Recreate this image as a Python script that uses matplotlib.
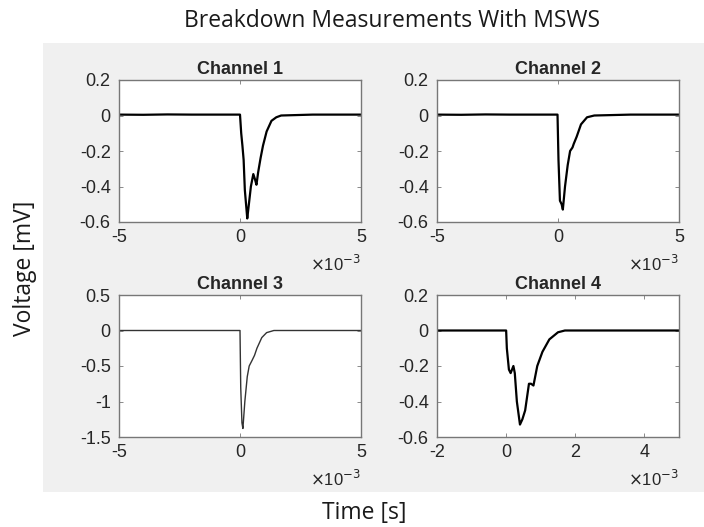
import matplotlib.pyplot as plt
from matplotlib.patches import Rectangle

# time in units of 1e-3 s, voltage in mV
t1 = [-5, -4, -3, -2, -1, 0, 0.05, 0.1, 0.15, 0.2, 0.3, 0.35, 0.45, 0.55,
      0.62, 0.68, 0.75, 0.85, 0.95, 1.1, 1.3, 1.5, 1.7, 3, 5]
v1 = [0.005, 0.004, 0.006, 0.005, 0.005, 0.005, -0.1, -0.17, -0.25, -0.42,
      -0.58, -0.52, -0.40, -0.33, -0.36, -0.39, -0.32, -0.24, -0.17, -0.09,
      -0.03, -0.01, 0.0, 0.005, 0.005]

t2 = [-5, -4, -3, -2, -1, -0.02, 0.02, 0.08, 0.15, 0.2, 0.29, 0.4, 0.5,
      0.6, 0.65, 0.77, 0.95, 1.2, 1.5, 3, 5]
v2 = [0.005, 0.004, 0.006, 0.005, 0.005, 0.005, -0.25, -0.48, -0.50, -0.53,
      -0.40, -0.28, -0.20, -0.18, -0.16, -0.12, -0.05, -0.01, 0.0, 0.005, 0.005]

t3 = [-5, -2, 0, 0.03, 0.08, 0.12, 0.2, 0.3, 0.38, 0.5, 0.6, 0.7, 0.9,
      1.1, 1.4, 3, 5]
v3 = [0.0, 0.0, 0.0, -0.8, -1.30, -1.38, -1.0, -0.65, -0.50, -0.42, -0.35,
      -0.25, -0.10, -0.03, 0.0, 0.0, 0.0]

t4 = [-2, -1, 0, 0.02, 0.08, 0.13, 0.21, 0.25, 0.31, 0.4, 0.47, 0.55,
      0.66, 0.72, 0.79, 0.9, 1.05, 1.25, 1.5, 1.7, 3, 5]
v4 = [0.0, 0.0, 0.0, -0.1, -0.22, -0.24, -0.20, -0.24, -0.40, -0.53, -0.50,
      -0.45, -0.30, -0.30, -0.31, -0.20, -0.12, -0.05, -0.01, 0.0, 0.0, 0.0]

titles = ["Channel 1", "Channel 2", "Channel 3", "Channel 4"]
xlims = [(-5, 5), (-5, 5), (-5, 5), (-2, 5)]
xticks = [[-5, 0, 5], [-5, 0, 5], [-5, 0, 5], [-2, 0, 2, 4]]
ylims = [(-0.6, 0.2), (-0.6, 0.2), (-1.5, 0.5), (-0.6, 0.2)]
yticks = [[-0.6, -0.4, -0.2, 0, 0.2], [-0.6, -0.4, -0.2, 0, 0.2],
          [-1.5, -1, -0.5, 0, 0.5], [-0.6, -0.4, -0.2, 0, 0.2]]
ytlabels = [["-0.6", "-0.4", "-0.2", "0", "0.2"], ["-0.6", "-0.4", "-0.2", "0", "0.2"],
            ["-1.5", "-1", "-0.5", "0", "0.5"], ["-0.6", "-0.4", "-0.2", "0", "0.2"]]
series = [(t1, v1), (t2, v2), (t3, v3), (t4, v4)]

plt.rcParams['font.family'] = ['Liberation Sans', 'DejaVu Sans']

W, H = 704, 527
fig = plt.figure(figsize=(W / 100, H / 100), dpi=100)

# grey MATLAB figure panel
fig.patches.append(Rectangle((43 / W, 1 - 492 / H), (704 - 43) / W, 449 / H,
                             transform=fig.transFigure, facecolor='#f0f0f0',
                             edgecolor='none', zorder=-10))

# axes boxes in pixels: left, top
boxes = [(119, 80), (437, 80), (119, 295), (437, 295)]
aw, ah = 242, 142

for i, (lx, ty) in enumerate(boxes):
    ax = fig.add_axes([lx / W, 1 - (ty + ah) / H, aw / W, ah / H])
    t, v = series[i]
    if i == 2:
        ax.plot(t, v, color='#333333', lw=1.0)
    else:
        ax.plot(t, v, color='black', lw=1.6)
    ax.set_xlim(*xlims[i])
    ax.set_ylim(*ylims[i])
    ax.set_xticks(xticks[i])
    ax.set_xticklabels([str(x) for x in xticks[i]])
    ax.set_yticks(yticks[i])
    ax.set_yticklabels(ytlabels[i])
    ax.tick_params(direction='in', length=3, width=0.6, color='#777777',
                   labelsize=13, labelcolor='#262626', top=True, right=True)
    ax.tick_params(axis='x', pad=5)
    ax.tick_params(axis='y', pad=6)
    for s in ax.spines.values():
        s.set_color('#777777')
        s.set_linewidth(1.0)
    ax.set_title(titles[i], fontsize=13, fontweight='bold', color='#262626', pad=4)
    ax.text(1.0, -0.225, r'$\times$10$^{-3}$', transform=ax.transAxes,
            ha='right', va='top', fontsize=12, color='#262626')

fig.text(392 / W, 1 - 21 / H, 'Breakdown Measurements With MSWS',
         ha='center', va='center', fontsize=16.5, family='Open Sans', color='#1a1a1a')
fig.text(25 / W, 1 - 268 / H, 'Voltage [mV]', rotation=90,
         ha='center', va='center', fontsize=16.5, family='Open Sans', color='#1a1a1a')
fig.text(364 / W, 1 - 513 / H, 'Time [s]',
         ha='center', va='center', fontsize=16.5, family='Open Sans', color='#1a1a1a')

fig.savefig('out.png', dpi=100)
